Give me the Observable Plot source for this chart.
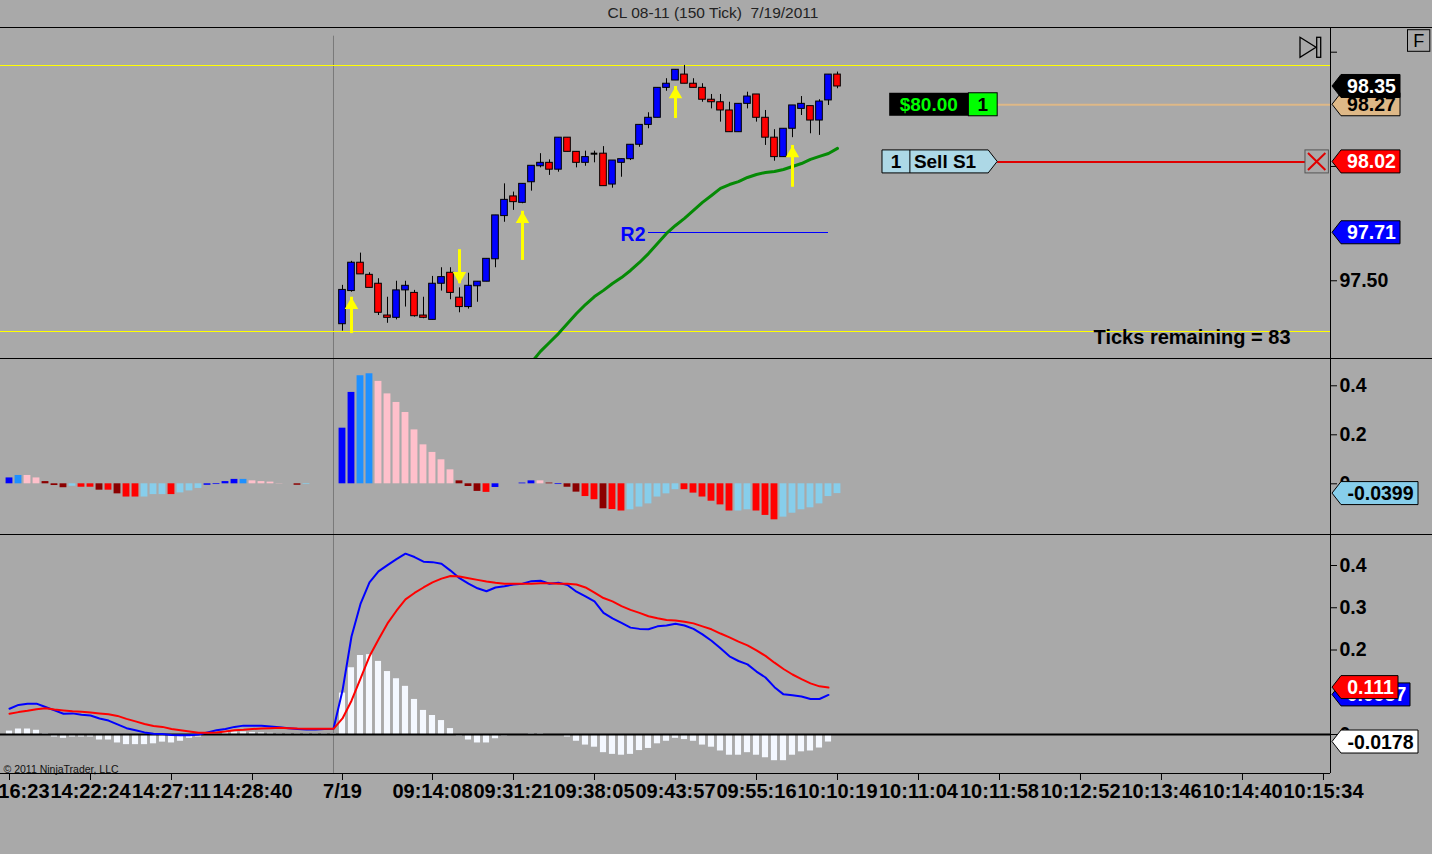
<!DOCTYPE html>
<html><head><meta charset="utf-8">
<script src="https://cdn.jsdelivr.net/npm/d3@7"></script>
<script src="https://cdn.jsdelivr.net/npm/@observablehq/plot@0.6"></script>
<style>
body{margin:0;background:#a9a9a9;font-family:"Liberation Sans",Arial,sans-serif;}
#wrap{position:relative;width:1432px;height:854px;overflow:hidden;background:#a9a9a9;}
#title{position:absolute;left:0;top:4px;width:1426px;text-align:center;font-size:15.5px;color:#222;}
.pn{position:absolute;left:0;}
.ln{position:absolute;background:#000;}
</style></head><body>
<div id="wrap"><div id="title">CL 08-11 (150 Tick)&nbsp;&nbsp;7/19/2011</div></div>
<script>
// ---------------- data ----------------
const candleIdx = d3.range(37, 93);
const candleOpen = [97.310,97.455,97.579,97.526,97.487,97.348,97.338,97.458,97.447,97.348,
 97.329,97.487,97.535,97.426,97.385,97.476,97.496,97.594,97.783,97.869,
 97.841,97.931,98.001,98.016,97.986,98.126,98.064,98.016,98.056,98.056,
 97.921,98.016,98.032,98.095,98.182,98.213,98.344,98.376,98.402,98.362,
 98.344,98.292,98.281,98.245,98.150,98.274,98.315,98.213,98.126,98.041,
 98.165,98.252,98.264,98.201,98.289,98.402];
const candleHigh = [97.480,97.585,97.621,97.535,97.509,97.428,97.498,97.498,97.458,97.428,
 97.519,97.557,97.557,97.469,97.533,97.496,97.596,97.786,97.924,97.888,
 97.924,98.003,98.056,98.029,98.126,98.126,98.064,98.067,98.067,98.087,
 98.026,98.032,98.095,98.182,98.235,98.344,98.384,98.423,98.442,98.384,
 98.362,98.315,98.315,98.281,98.274,98.325,98.315,98.245,98.161,98.165,
 98.267,98.306,98.264,98.292,98.402,98.413];
const candleLow = [97.280,97.450,97.528,97.469,97.348,97.314,97.329,97.385,97.341,97.334,
 97.329,97.455,97.417,97.360,97.376,97.406,97.496,97.557,97.756,97.808,
 97.837,97.892,97.994,97.961,97.975,98.064,97.994,98.001,98.016,97.914,
 97.905,97.953,98.026,98.084,98.165,98.213,98.329,98.376,98.362,98.344,
 98.281,98.252,98.194,98.150,98.150,98.252,98.194,98.092,98.023,98.041,
 98.126,98.223,98.143,98.136,98.267,98.340];
const candleClose = [97.460,97.579,97.528,97.469,97.360,97.338,97.458,97.478,97.345,97.338,
 97.487,97.516,97.447,97.385,97.478,97.496,97.596,97.786,97.854,97.844,
 97.924,98.003,98.016,97.986,98.126,98.064,98.016,98.041,98.056,97.914,
 98.026,98.032,98.095,98.182,98.213,98.344,98.362,98.423,98.362,98.344,
 98.292,98.281,98.245,98.150,98.274,98.306,98.213,98.126,98.041,98.165,
 98.267,98.274,98.201,98.284,98.402,98.350];
const smaIdx = d3.range(58, 93);
const smaVals = [97.143,97.191,97.230,97.269,97.313,97.357,97.396,97.431,97.458,97.488,
 97.514,97.545,97.580,97.619,97.663,97.707,97.742,97.773,97.808,97.843,
 97.873,97.904,97.921,97.934,97.952,97.965,97.974,97.978,97.987,98.000,
 98.013,98.031,98.044,98.057,98.079];
const hiLoLines = [98.442, 97.278];
const sessionBreak = 36;
const r2Level = 97.71, r2From = 71, r2To = 91;
const upArrowIdx = [38, 57, 74, 87];
const upArrowTip = [97.428, 97.804, 98.350, 98.092];
const upArrowTail = [97.269, 97.589, 98.210, 97.909];
const downArrowIdx = [50];
const downArrowTip = [97.487];
const downArrowTail = [97.636];
const positionLevel = 98.27, orderLevel = 98.02;
const priceTicks = [97.5, 98.0, 98.5];
const priceTickLabels = ["97.50", "98.00", ""];
const ticksText = "Ticks remaining = 83";

const histIdx = d3.range(0, 93);
const histVals = [0.024,0.034,0.034,0.024,0.009,-0.007,-0.016,-0.010,-0.014,-0.014,
 -0.026,-0.026,-0.041,-0.054,-0.054,-0.054,-0.044,-0.044,-0.044,-0.037,
 -0.029,-0.019,-0.006,-0.003,0.009,0.018,0.018,0.012,0.009,0.007,
 0.001,0,-0.006,-0.003,0,0,0,0.227,0.373,0.441,
 0.449,0.418,0.367,0.332,0.291,0.220,0.159,0.128,0.098,0.057,
 0.012,-0.011,-0.031,-0.035,-0.015,0,0,0.003,0.012,0.012,
 0.003,-0.003,-0.014,-0.034,-0.052,-0.065,-0.102,-0.105,-0.111,-0.106,
 -0.095,-0.082,-0.054,-0.041,-0.024,-0.024,-0.038,-0.054,-0.071,-0.086,
 -0.111,-0.111,-0.106,-0.111,-0.129,-0.147,-0.136,-0.120,-0.106,-0.098,
 -0.082,-0.052,-0.0399];
const histColorCodes = ["B","D","P","P","K","K","K","S","R","R",
 "K","R","K","R","R","S","S","S","R","S",
 "S","S","B","B","B","B","D","P","P","P",
 "P","P","K","S","S","S","S","B","B","D",
 "D","P","P","P","P","P","P","P","P","P",
 "K","K","K","R","B","B","B","B","B","P",
 "K","B","K","K","R","R","K","R","R","S",
 "S","S","S","S","S","R","R","R","R","R",
 "R","S","S","R","R","R","S","S","S","S",
 "S","S","S"];
const histPalette = {B:"#0000ff", D:"#1e90ff", P:"#ffc0cb", K:"#8b0000", R:"#ff0000", S:"#87ceeb"};
const histTicks = [0, 0.2, 0.4];

const macdIdx = d3.range(0, 92);
const macdVals = [0.061,0.070,0.073,0.073,0.065,0.057,0.049,0.050,0.047,0.045,
 0.038,0.033,0.024,0.015,0.010,0.005,0.002,0.001,-0.001,-0.002,
 -0.002,0.000,0.005,0.010,0.013,0.018,0.021,0.021,0.021,0.019,
 0.017,0.015,0.013,0.012,0.012,0.013,0.0135,0.104,0.232,0.309,
 0.360,0.386,0.401,0.415,0.428,0.420,0.409,0.408,0.404,0.388,
 0.370,0.357,0.346,0.339,0.348,0.351,0.355,0.357,0.363,0.364,
 0.357,0.359,0.354,0.338,0.327,0.315,0.288,0.275,0.264,0.253,
 0.250,0.249,0.256,0.258,0.262,0.258,0.250,0.237,0.222,0.204,
 0.185,0.174,0.166,0.149,0.135,0.112,0.095,0.093,0.090,0.084,
 0.084,0.0937];
const signalVals = [0.049,0.053,0.056,0.060,0.062,0.059,0.057,0.055,0.054,0.052,
 0.050,0.048,0.044,0.037,0.031,0.025,0.020,0.018,0.013,0.010,
 0.007,0.004,0.004,0.005,0.007,0.010,0.011,0.013,0.014,0.015,
 0.016,0.015,0.014,0.0135,0.0135,0.0135,0.0135,0.038,0.080,0.132,
 0.185,0.225,0.263,0.293,0.320,0.335,0.348,0.360,0.369,0.375,
 0.374,0.370,0.366,0.362,0.359,0.357,0.357,0.357,0.357,0.358,
 0.358,0.357,0.357,0.355,0.348,0.336,0.323,0.315,0.304,0.295,
 0.288,0.280,0.275,0.271,0.270,0.267,0.263,0.256,0.249,0.239,
 0.230,0.220,0.211,0.199,0.186,0.170,0.155,0.142,0.131,0.121,
 0.114,0.111];
const diffVals = [0.008,0.013,0.013,0.010,0.002,-0.006,-0.009,-0.006,-0.006,-0.006,
 -0.013,-0.013,-0.020,-0.024,-0.024,-0.024,-0.022,-0.018,-0.020,-0.016,
 -0.009,-0.006,0.000,0.000,0.005,0.006,0.006,0.005,0.004,0.003,
 0.002,0.002,0.002,0.002,0.002,0.002,0.002,0.098,0.158,0.187,
 0.189,0.173,0.149,0.132,0.114,0.083,0.057,0.045,0.033,0.014,
 -0.004,-0.013,-0.020,-0.020,-0.010,-0.004,-0.002,0.000,0.002,0.002,
 -0.002,0.000,-0.006,-0.016,-0.025,-0.030,-0.043,-0.047,-0.049,-0.047,
 -0.038,-0.033,-0.022,-0.016,-0.009,-0.012,-0.016,-0.025,-0.030,-0.039,
 -0.049,-0.049,-0.043,-0.049,-0.055,-0.062,-0.062,-0.049,-0.041,-0.039,
 -0.032,-0.0178];
const macdTicks = [0, 0.2, 0.3, 0.4];

const xTickIdx = [0, 9, 18, 27, 37, 47, 56, 65, 74, 83, 92, 101, 110, 119, 128, 137, 146];
const xTickLabels = ["14:16:23","14:22:24","14:27:11","14:28:40","7/19","09:14:08","09:31:21","09:38:05","09:43:57","09:55:16","10:10:19","10:11:04","10:11:58","10:12:52","10:13:46","10:14:40","10:15:34"];
const copyright = "© 2011 NinjaTrader, LLC";

// ---------------- build ----------------
const FONT = '"Liberation Sans", Arial, sans-serif';
const xDomain = [-1, 146.78];
const baseStyle = {background: "transparent", fontFamily: FONT, fontSize: "19px", fontWeight: "bold", color: "#000"};

const candles = candleIdx.map((i, k) => ({i, o: candleOpen[k], h: candleHigh[k], l: candleLow[k], c: candleClose[k]}));
const sma = smaIdx.map((i, k) => ({i, v: smaVals[k]}));
const upArrows = upArrowIdx.map((i, k) => ({i, tip: upArrowTip[k], tail: upArrowTail[k]}));
const downArrows = downArrowIdx.map((i, k) => ({i, tip: downArrowTip[k], tail: downArrowTail[k]}));
const hist = histIdx.map((i, k) => ({i, v: histVals[k], c: histPalette[histColorCodes[k]]}));
const macd = macdIdx.map((i, k) => ({i, m: macdVals[k], s: signalVals[k], d: diffVals[k]}));

function tags(list) {
  return (index, scales, values, dims) => {
    const x0 = dims.width - dims.marginRight;
    const g = d3.create("svg:g");
    for (const t of list) {
      const y = scales.y(t.v), h = 23;
      g.append("path")
        .attr("d", `M${x0 + 2},${y} L${x0 + 11},${y - h / 2} L${x0 + t.w},${y - h / 2} L${x0 + t.w},${y + h / 2} L${x0 + 11},${y + h / 2} Z`)
        .attr("fill", t.bg).attr("stroke", "#000");
      g.append("text").attr("x", (x0 + 11 + x0 + t.w) / 2 + 1).attr("y", y).attr("dy", "0.36em")
        .attr("text-anchor", "middle").attr("fill", t.fg).attr("font-size", 19.5).attr("font-weight", "bold")
        .text(t.label);
    }
    return g.node();
  };
}

function orderWidgets(index, {x, y}) {
  const g = d3.create("svg:g");
  const h = 23, yp = y(positionLevel), yo = y(orderLevel);
  const a = x(97.8), b = x(106.6), c = x(109.8);
  g.append("rect").attr("x", a).attr("y", yp - h / 2).attr("width", b - a).attr("height", h).attr("fill", "#000");
  g.append("text").attr("x", (a + b) / 2).attr("y", yp).attr("dy", "0.36em").attr("text-anchor", "middle").attr("fill", "#00ff00").text("$80.00");
  g.append("rect").attr("x", b).attr("y", yp - h / 2).attr("width", c - b).attr("height", h).attr("fill", "#00ff00").attr("stroke", "#000");
  g.append("text").attr("x", (b + c) / 2).attr("y", yp).attr("dy", "0.36em").attr("text-anchor", "middle").attr("fill", "#000").text("1");
  const s0 = x(97.0), sd = x(100.1), sa = x(108.8);
  g.append("path").attr("d", `M${s0},${yo - h / 2} H${sa} L${c},${yo} L${sa},${yo + h / 2} H${s0} Z`).attr("fill", "#add8e6").attr("stroke", "#000");
  g.append("line").attr("x1", sd).attr("x2", sd).attr("y1", yo - h / 2).attr("y2", yo + h / 2).attr("stroke", "#000");
  g.append("text").attr("x", (s0 + sd) / 2).attr("y", yo).attr("dy", "0.36em").attr("text-anchor", "middle").attr("fill", "#000").text("1");
  g.append("text").attr("x", sd + 4).attr("y", yo).attr("dy", "0.36em").attr("text-anchor", "start").attr("fill", "#000").text("Sell S1");
  const q0 = x(144.0), q1 = x(146.6);
  g.append("rect").attr("x", q0).attr("y", yo - h / 2).attr("width", q1 - q0).attr("height", h).attr("fill", "none").attr("stroke", "#555");
  g.append("path").attr("d", `M${q0 + 3},${yo - h / 2 + 3} L${q1 - 3},${yo + h / 2 - 3} M${q1 - 3},${yo - h / 2 + 3} L${q0 + 3},${yo + h / 2 - 3}`).attr("stroke", "#e00000").attr("stroke-width", 2);
  return g.node();
}

function chartIcons(index, scales, values, dims) {
  const ax = dims.width - dims.marginRight, W = dims.width;
  const g = d3.create("svg:g");
  g.append("path").attr("d", `M${ax - 30},${10.3} L${ax - 14},${20.3} L${ax - 30},${30.3} Z`).attr("fill", "none").attr("stroke", "#000").attr("stroke-width", 1.3);
  g.append("rect").attr("x", ax - 13.3).attr("y", 10.3).attr("width", 4).attr("height", 20).attr("fill", "none").attr("stroke", "#000").attr("stroke-width", 1.3);
  g.append("rect").attr("x", W - 24.5).attr("y", 2.7).attr("width", 22.3).attr("height", 21.6).attr("fill", "none").attr("stroke", "#000");
  g.append("text").attr("x", W - 13.3).attr("y", 13.5).attr("dy", "0.36em").attr("text-anchor", "middle").attr("font-size", 18).attr("font-weight", "normal").attr("fill", "#000").text("F");
  return g.node();
}

const p1 = Plot.plot({
  width: 1432, height: 331, margin: 0, marginRight: 102,
  x: {domain: xDomain, axis: null},
  y: {domain: [97.160, 98.608], axis: null},
  color: {type: "identity"},
  style: baseStyle,
  marks: [
    Plot.ruleX([sessionBreak], {stroke: "#7a7a7a", y1: 97.16, y2: 98.57}),
    Plot.ruleY(hiLoLines, {stroke: "#ffff00", shapeRendering: "crispEdges"}),
    Plot.ruleY([positionLevel], {x1: 109.8, x2: xDomain[1], stroke: "#deb887", strokeWidth: 2}),
    Plot.ruleY([orderLevel], {x1: 109.8, x2: 144.0, stroke: "#e00000", strokeWidth: 2}),
    Plot.ruleY([r2Level], {x1: r2From, x2: r2To, stroke: "#0000ff", shapeRendering: "crispEdges"}),
    Plot.text(["R2"], {x: r2From, y: r2Level, textAnchor: "end", dx: -3, dy: 2, fill: "#0000ff", fontSize: 19.5}),
    Plot.line(sma, {x: "i", y: "v", stroke: "#058a05", strokeWidth: 3, clip: true}),
    Plot.ruleX(candles, {x: "i", y1: "l", y2: "h", stroke: "#000"}),
    Plot.rect(candles.filter(d => d.o !== d.c), {x1: d => d.i - 0.37, x2: d => d.i + 0.37, y1: "o", y2: "c", fill: d => d.c > d.o ? "#0000ff" : "#ff0000", stroke: "#000"}),
    Plot.ruleY(candles.filter(d => d.o === d.c), {y: "o", x1: d => d.i - 0.37, x2: d => d.i + 0.37, stroke: "#000", strokeWidth: 2}),
    Plot.ruleX(upArrows, {x: "i", y1: "tail", y2: "tip", stroke: "#ffff00", strokeWidth: 3}),
    Plot.dot(upArrows, {x: "i", y: "tip", symbol: "triangle", r: 5, fill: "#ffff00", stroke: "none", dy: 7.8}),
    Plot.ruleX(downArrows, {x: "i", y1: "tail", y2: "tip", stroke: "#ffff00", strokeWidth: 3}),
    Plot.dot(downArrows, {x: "i", y: "tip", symbol: "triangle", r: 5, fill: "#ffff00", stroke: "none", rotate: 180, dy: -7.8}),
    Plot.axisY({anchor: "right", ticks: priceTicks, tickFormat: d => priceTickLabels[priceTicks.indexOf(d)], tickSize: 6, tickPadding: 3, fontSize: 19.5, label: null}),
    Plot.text([ticksText], {frameAnchor: "bottom-right", textAnchor: "end", lineAnchor: "middle", dx: -40, dy: -21, fill: "#000", fontSize: 20}),
    orderWidgets,
    chartIcons,
    tags([
      {v: positionLevel, label: "98.27", bg: "#deb887", fg: "#000", w: 70},
      {v: candleClose[candleClose.length - 1], label: candleClose[candleClose.length - 1].toFixed(2), bg: "#000", fg: "#fff", w: 70},
      {v: orderLevel, label: "98.02", bg: "#ff0000", fg: "#fff", w: 70},
      {v: r2Level, label: "97.71", bg: "#0000ff", fg: "#fff", w: 70}
    ])
  ]
});

const p2 = Plot.plot({
  width: 1432, height: 176, margin: 0, marginRight: 102,
  x: {domain: xDomain, axis: null},
  y: {domain: [-0.2069, 0.5114], axis: null},
  color: {type: "identity"},
  style: baseStyle,
  marks: [
    Plot.ruleX([sessionBreak], {stroke: "#7a7a7a"}),
    Plot.rect(hist, {x1: d => d.i - 0.38, x2: d => d.i + 0.38, y1: 0, y2: "v", fill: "c"}),
    Plot.axisY({anchor: "right", ticks: histTicks, tickFormat: d => String(d), tickSize: 6, tickPadding: 3, fontSize: 19.5, label: null}),
    tags([{v: histVals[histVals.length - 1], label: histVals[histVals.length - 1].toFixed(4), bg: "#87ceeb", fg: "#000", w: 88}])
  ]
});

const p3 = Plot.plot({
  width: 1432, height: 276, margin: 0, marginRight: 102, marginBottom: 37,
  x: {domain: xDomain, axis: null},
  y: {domain: [-0.0923, 0.4734], axis: null},
  color: {type: "identity"},
  style: baseStyle,
  marks: [
    Plot.ruleX([sessionBreak], {stroke: "#7a7a7a"}),
    Plot.rect(macd, {x1: d => d.i - 0.34, x2: d => d.i + 0.34, y1: 0, y2: "d", fill: "#f4f8ff"}),
    Plot.ruleY([0], {stroke: "#000", strokeWidth: 2}),
    Plot.line(macd, {x: "i", y: "m", stroke: "#0000ff", strokeWidth: 2}),
    Plot.line(macd, {x: "i", y: "s", stroke: "#ff0000", strokeWidth: 2}),
    Plot.axisY({anchor: "right", ticks: macdTicks, tickFormat: d => String(d), tickSize: 6, tickPadding: 3, fontSize: 19.5, label: null}),
    Plot.axisX({anchor: "bottom", ticks: xTickIdx, tickFormat: d => xTickLabels[xTickIdx.indexOf(d)], tickSize: 7, tickPadding: 3, fontSize: 20, label: null}),
    Plot.text([copyright], {frameAnchor: "bottom-left", textAnchor: "start", lineAnchor: "bottom", dx: 3, dy: -1, fontSize: 10.5, fontWeight: "normal", fill: "#111"}),
    tags([
      {v: macdVals[macdVals.length - 1], label: macdVals[macdVals.length - 1].toFixed(4), bg: "#0000ff", fg: "#fff", w: 80},
      {v: signalVals[signalVals.length - 1], label: signalVals[signalVals.length - 1].toFixed(3), bg: "#ff0000", fg: "#fff", w: 68},
      {v: diffVals[diffVals.length - 1], label: diffVals[diffVals.length - 1].toFixed(4), bg: "#ffffff", fg: "#000", w: 88}
    ])
  ]
});

const wrap = document.getElementById("wrap");
[[p1, 27], [p2, 358], [p3, 534]].forEach(([el, top]) => {
  el.classList.add("pn");
  el.style.top = top + "px";
  wrap.appendChild(el);
});
// panel frame lines
[[0, 27, 1432, 1], [0, 358, 1432, 1], [0, 534, 1432, 1], [0, 773, 1330, 1], [1330, 27, 1, 746]].forEach(([l, t, w, h]) => {
  const d = document.createElement("div");
  d.className = "ln";
  Object.assign(d.style, {left: l + "px", top: t + "px", width: w + "px", height: h + "px"});
  wrap.appendChild(d);
});
</script>
</body></html>
